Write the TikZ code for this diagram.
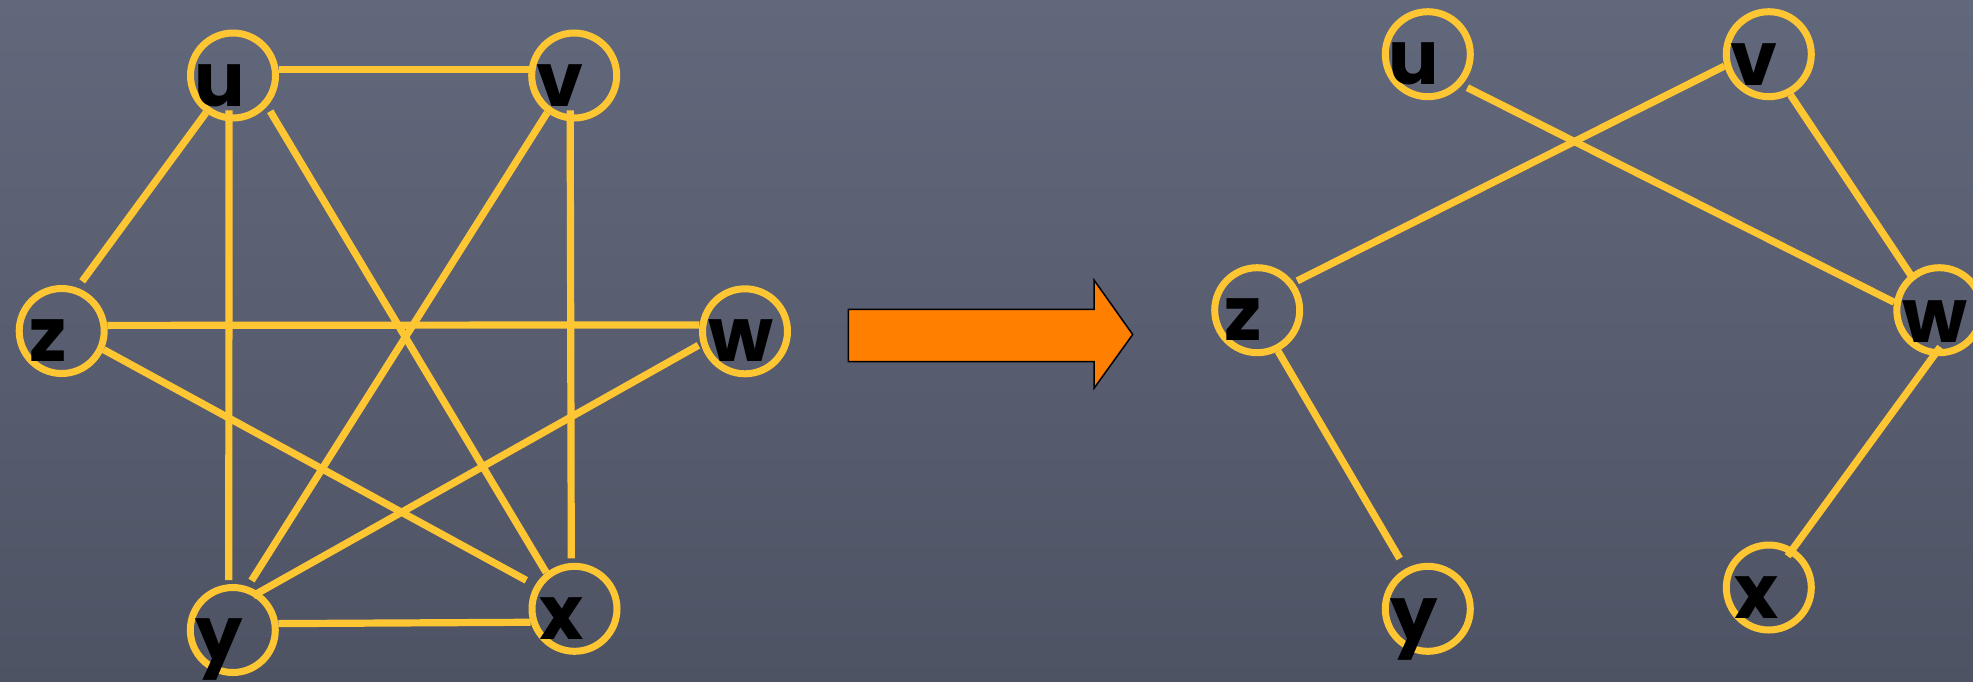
\documentclass[tikz,border=0pt]{standalone}
\usepackage{fontspec}
\newfontfamily\lblfont{Poppins}
\usetikzlibrary{shadings}
\definecolor{boardtop}{RGB}{98,104,123}
\definecolor{boardbot}{RGB}{78,83,100}
\definecolor{chalk}{RGB}{255,198,52}
\definecolor{arroworange}{RGB}{255,128,0}
\begin{document}
\begin{tikzpicture}[x=1pt,y=-1pt,
  vtx/.style={circle, draw=chalk, line width=7pt, minimum size=85pt, inner sep=0pt},
  lbl/.style={font={\lblfont\bfseries\fontsize{75}{80}\selectfont}, text=black, inner sep=0pt, anchor=base},
  link/.style={draw=chalk, line width=7.2pt}]
\useasboundingbox (0,0) rectangle (1973,681);
\clip (0,0) rectangle (1973,681);
\shade[top color=boardtop, bottom color=boardbot] (0,0) rectangle (1973,681);

% left graph
\node[vtx] (u1) at (233,75.5) {};
\node[vtx] (v1) at (574.2,75.5) {};
\node[vtx] (z1) at (61.7,331) {};
\node[vtx] (w1) at (745,331.3) {};
\node[vtx] (y1) at (232.8,630) {};
\node[vtx] (x1) at (574.5,608.8) {};

\draw[link] (u1.8) -- (v1.172);
\draw[link, shorten >=8pt] (u1.-126) -- (z1.70);
\draw[link, shorten <=-11pt, shorten >=4pt] (u1.-95) -- (y1.95);
\draw[link, shorten <=5.8pt] (u1.-42) -- (x1.128);
\draw[link, shorten >=7pt] (v1.-126) -- (y1.71);
\draw[link, shorten <=-11pt, shorten >=4.5pt] (v1.-95) -- (x1.94);
\draw[link] (z1.7) -- (w1.172);
\draw[link, shorten >=10pt] (z1.-24) -- (x1.149);
\draw[link, shorten <=2.7pt, shorten >=-7pt] (w1.-164) -- (y1.55);
\draw[link] (y1.8) -- (x1.-163);

% right graph
\node[vtx] (u2) at (1427.8,54.2) {};
\node[vtx] (v2) at (1768.8,54.2) {};
\node[vtx] (z2) at (1257.2,310.2) {};
\node[vtx] (w2) at (1939.3,310.2) {};
\node[vtx] (y2) at (1427.8,608.8) {};
\node[vtx] (x2) at (1768.8,587.5) {};

\draw[link, shorten <=6pt] (u2.-42) -- (w2.170);
\draw[link, shorten >=3.7pt] (v2.-165) -- (z2.37);
\draw[link, shorten >=-2.6pt] (v2.-62) -- (w2.129);
\draw[link, shorten >=11.6pt] (z2.-63) -- (y2.119);
\draw[link, shorten <=-11pt, shorten >=-9.5pt] (w2.-97) -- (x2.58);

% labels
\node[lbl] (u1t) at (219.5,106) {u};
\node[lbl] (v1t) at (559.5,106.5) {v};
\node[lbl] (z1t) at (48.4,361.5) {z};
\node[lbl] (w1t) at (741,361.5) {w};
\node[lbl] (y1t) at (219.2,660) {y};
\node[lbl] (x1t) at (562,639) {x};
\node[lbl] (u2t) at (1414.2,84.5) {u};
\node[lbl] (v2t) at (1754.2,85) {v};
\node[lbl] (z2t) at (1243.4,340.7) {z};
\node[lbl] (w2t) at (1935,342) {w};
\node[lbl] (y2t) at (1414.2,640.3) {y};
\node[lbl] (x2t) at (1757,618.3) {x};

% arrow
\draw[fill=arroworange, draw=black, line width=1.5pt]
  (848.3,309.3) -- (1094,309.3) -- (1094,280) -- (1132.7,334.5)
  -- (1094,388.3) -- (1094,361.7) -- (848.3,361.7) -- cycle;
\end{tikzpicture}
\end{document}
